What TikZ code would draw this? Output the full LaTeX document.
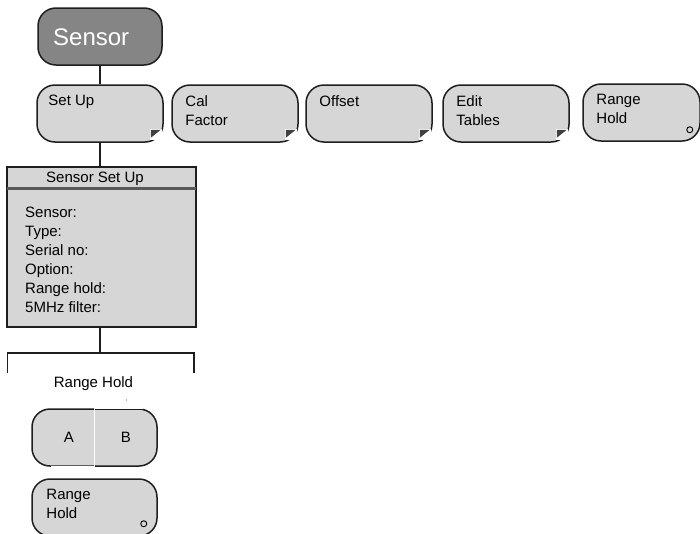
\documentclass[tikz,border=0pt]{standalone}
\usepackage{fontspec}
\setmainfont{Liberation Sans}
\usetikzlibrary{positioning, calc}

\definecolor{keygray}{RGB}{214,214,214}
\definecolor{titlegray}{RGB}{133,133,133}
\definecolor{edgegray}{RGB}{30,30,30}

% little corner flag of a key that opens a sub menu
\newcommand{\submenuflag}[1]{%
  \fill[white] ($(#1.south east)+(-14,-14)$) rectangle ($(#1.south east)+(-2,-3)$);
  \fill[black!75] ($(#1.south east)+(-13,-13)$) -- ++(10,0) -- ++(-10,8) -- cycle;}

\begin{document}
\begin{tikzpicture}[
  x=1pt, y=-1pt,
  font=\fontsize{15}{19}\selectfont,
  key/.style={rectangle, draw=edgegray, line width=1.5pt, rounded corners=18pt, fill=keygray, minimum width=126pt, minimum height=57pt, inner sep=0pt},
  keytext/.style={inner sep=0pt, align=left, anchor=north west},
  panel/.style={rectangle, draw=edgegray, line width=1.2pt, fill=keygray, inner sep=0pt},
  link/.style={draw=edgegray, line width=1.6pt},
  holdmark/.style={circle, draw=black, line width=0.9pt, inner sep=0pt, minimum size=6pt}
]
  \useasboundingbox (0,0) rectangle (700,533);
  \clip (0,0) rectangle (700,533);

  % top key
  \node[key, fill=titlegray, minimum width=124pt] (sensor) at (100,36.5) {};
  \node[anchor=west, inner sep=0pt, text=white, font=\fontsize{24}{28}\selectfont] (sensorlabel) at (53,37.5) {Sensor};

  % soft keys
  \node[key] (setup) at (100,113.5) {};
  \node[key] (calfactor) at (235,113.5) {};
  \node[key] (offset) at (369,113.5) {};
  \node[key] (edittables) at (506,113.5) {};
  \node[key, minimum width=117pt] (rangehold) at (641.5,112.5) {};
  \node[keytext, below right=11pt and 12pt of setup.north west] (setuplabel) {Set Up};
  \node[keytext, below right=11pt and 14pt of calfactor.north west] (calfactorlabel) {Cal\\Factor};
  \node[keytext, below right=11pt and 14pt of offset.north west] (offsetlabel) {Offset};
  \node[keytext, below right=11pt and 14pt of edittables.north west] (edittableslabel) {Edit\\Tables};
  \node[keytext, below right=11pt and 14pt of rangehold.north west] (rangeholdlabel) {Range\\Hold};
  \submenuflag{setup}
  \submenuflag{calfactor}
  \submenuflag{offset}
  \submenuflag{edittables}
  \node[holdmark] (rangeholdmark) at ($(rangehold.south east)+(-11,-12)$) {};

  % set up panel
  \node[panel, minimum width=189pt, minimum height=160pt] (sensorsetup) at (101.5,247) {};
  \draw[line width=2.5pt, black!65] ($(sensorsetup.north west)+(0.6,22)$) -- ($(sensorsetup.north east)+(-0.6,22)$);
  \node (paneltitle) at (95,178.5) {Sensor Set Up};
  \node[keytext] (panelbody) at (25,207) {Sensor:\\Type:\\Serial no:\\Option:\\Range hold:\\5MHz filter:};

  % range hold keys
  \coordinate (fork) at (100,353);
  \coordinate (forkleft) at (7.5,373);
  \coordinate (forkright) at (194,373);
  \node (holdtitle) at (93.5,383.5) {Range Hold};
  \fill[black!55] (126.5,400) circle (0.7);
  \node[key, minimum width=125pt] (holdab) at (94.5,437.5) {};
  \draw[white, line width=1.6pt] (holdab.north) -- (holdab.south);
  \draw[white, line width=1.6pt] (holdab.north) -- ++(48,0);
  \draw[white, line width=1.6pt] (holdab.south) -- ++(-44,0);
  \node (holda) at (69,437) {A};
  \node (holdb) at (126,437) {B};
  \node[key, minimum width=125pt] (rangeholdlow) at (94.5,507.5) {};
  \node[keytext, below right=11pt and 15pt of rangeholdlow.north west] (rangeholdlowlabel) {Range\\Hold};
  \node[holdmark] (rangeholdlowmark) at ($(rangeholdlow.south east)+(-14,-13)$) {};

  % connectors
  \draw[link] (sensor) -- (setup);
  \draw[link] (setup.south) -- (setup.south |- sensorsetup.north);
  \draw[link] (setup.south |- sensorsetup.south) -- (fork);
  \draw[link] (forkleft) |- (fork) -| (forkright);
\end{tikzpicture}
\end{document}
